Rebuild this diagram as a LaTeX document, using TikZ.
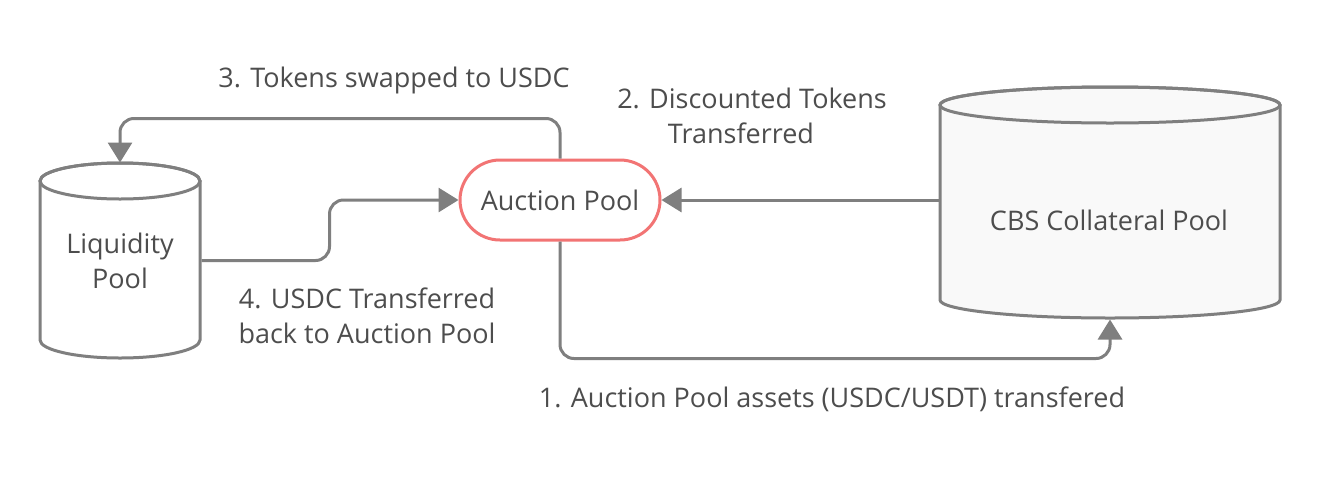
\documentclass[tikz,border=0pt]{standalone}
\usepackage{fontspec}
\setmainfont{Open Sans}
\usetikzlibrary{arrows.meta,calc}
\definecolor{linegray}{HTML}{7F7F7F}
\definecolor{txtgray}{HTML}{4D4D4D}
\definecolor{apred}{HTML}{F27474}
\definecolor{cylfill}{HTML}{F9F9F9}
\begin{document}
\begin{tikzpicture}[x=1pt,y=-1pt,
  every node/.style={font=\fontsize{27}{35}\selectfont, text=txtgray},
  cyl/.style={draw=linegray, line width=3pt},
  conn/.style={draw=linegray, line width=3pt, rounded corners=14pt,
    -{Triangle[length=20pt,width=24pt]}},
  lbl/.style={align=center, inner sep=0pt},
  ghost/.style={draw=none, inner sep=0pt, outer sep=0pt},
]
\useasboundingbox[fill=white] (0,0) rectangle (1321,480);

% Liquidity pool cylinder
\filldraw[cyl, fill=white] (40,181) -- (40,340)
  arc[start angle=180, end angle=0, x radius=80, y radius=18] -- (200,181)
  arc[start angle=0, end angle=-180, x radius=80, y radius=18] -- cycle;
\draw[cyl] (120,181) ellipse[x radius=80, y radius=18];
\node[ghost, minimum width=163pt, minimum height=196pt, align=center] (lp) at (120,260.5) {Liquidity\\Pool};

% CBS collateral pool cylinder
\filldraw[cyl, fill=cylfill] (940,105) -- (940,300)
  arc[start angle=180, end angle=0, x radius=170, y radius=18] -- (1280,105)
  arc[start angle=0, end angle=-180, x radius=170, y radius=18] -- cycle;
\draw[cyl] (1110,105) ellipse[x radius=170, y radius=18];
\node[ghost, minimum width=343pt, minimum height=234pt] (cbs) at (1110,202.5) {};
\node (cbst) at (1109,220) {CBS Collateral Pool};

% Auction pool
\node[draw=apred, line width=3pt, fill=white, rounded corners=40pt,
  minimum width=200pt, minimum height=80pt] (ap) at (560,200) {Auction Pool};

% Connectors
\draw[conn] (ap.north) -- ++(0,-40) -| (lp.north);
\draw[conn] (lp.east) -- ++(128,0) |- (ap.west);
\draw[conn] (ap.east -| cbs.west) -- (ap.east);
\draw[conn] (ap.south) -- ++(0,117) -| (cbs.south);

% Labels
\node[lbl] (l3) at (394,80) {3. Tokens swapped to USDC};
\node[lbl] (l2) at (752,116) {2. Discounted Tokens\\Transferred\kern22pt};
\node[lbl] (l4) at (367,316) {4. USDC Transferred\\back to Auction Pool};
\node[lbl] (l1) at (832,399) {1. Auction Pool assets (USDC/USDT) transfered};
\end{tikzpicture}
\end{document}
